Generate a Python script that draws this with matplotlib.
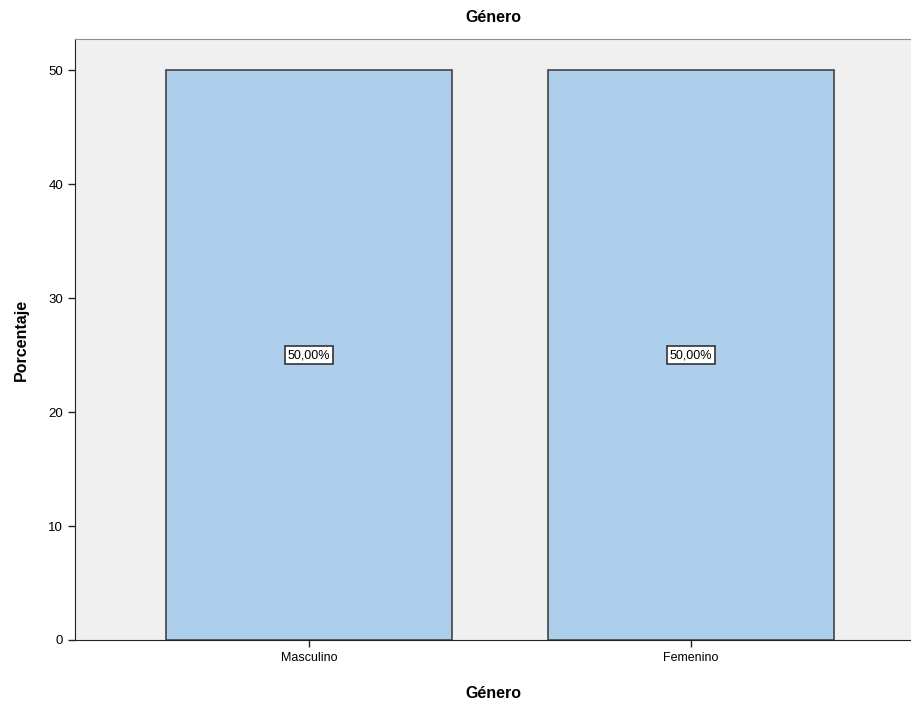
import numpy as np
import matplotlib
matplotlib.use('Agg')
import matplotlib.pyplot as plt

plt.rcParams['font.family'] = ['Liberation Sans', 'DejaVu Sans']

categorias = ['Masculino', 'Femenino']
porcentajes = [50.0, 50.0]
etiquetas = ['50,00%', '50,00%']
yticks = [0, 10, 20, 30, 40, 50]

fig = plt.figure(figsize=(9.12, 7.08), dpi=100)
ax = fig.add_axes([75/912, 68/708, 837/912, 601/708])
ax.set_facecolor('#f0f0f0')

x = np.arange(len(categorias))
ax.bar(x, porcentajes, width=0.75, color='#aecfec', edgecolor='#444444', linewidth=1.2, zorder=2)

for xi, val, lab in zip(x, porcentajes, etiquetas):
    ax.text(xi, val / 2, lab, ha='center', va='center', fontsize=9, zorder=3,
            bbox=dict(boxstyle='square,pad=0.25', facecolor='white', edgecolor='#333333', linewidth=1.2))

ax.set_xlim(-0.613, 1.579)
ax.set_ylim(0, 52.72)
ax.set_xticks(x)
ax.set_xticklabels(categorias, fontsize=9)
ax.set_yticks(yticks)
ax.set_yticklabels([str(t) for t in yticks], fontsize=9.5)
ax.tick_params(axis='both', length=5, width=1, color='#222222')

ax.spines['right'].set_visible(False)
ax.spines['top'].set_color('#909090')
ax.spines['left'].set_color('#222222')
ax.spines['bottom'].set_color('#222222')

ax.set_title('Género', fontsize=11.5, fontweight='bold', pad=12)
ax.set_ylabel('Porcentaje', fontsize=11.5, fontweight='bold', labelpad=14)
ax.set_xlabel('Género', fontsize=11.5, fontweight='bold', labelpad=16)

fig.savefig('out.png', dpi=100)
